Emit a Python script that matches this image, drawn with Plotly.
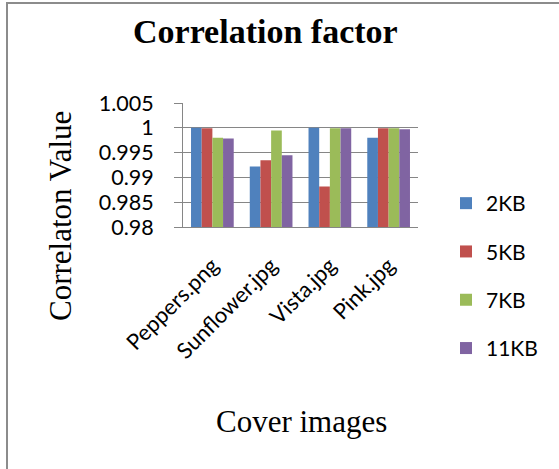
import plotly.graph_objects as go

# Correlation between cover and stego images for different payload sizes
images = ["Peppers.png", "Sunflower.jpg", "Vista.jpg", "Pink.jpg"]
series_names = ["2KB", "5KB", "7KB", "11KB"]
corr_2kb = [1.0, 0.9922, 1.0, 0.998]
corr_5kb = [0.9999, 0.99347, 0.98816, 0.9999]
corr_7kb = [0.998, 0.99946, 0.9999, 0.9999]
corr_11kb = [0.99785, 0.99448, 0.9999, 0.9997]
y_ticks = [0.98, 0.985, 0.99, 0.995, 1, 1.005]
y_tick_text = ["0.98", "0.985", "0.99", "0.995", "1", "1.005"]

colors = ["#4F81BD", "#C0504D", "#9BBB59", "#8064A2"]
values = [corr_2kb, corr_5kb, corr_7kb, corr_11kb]

W, H = 559, 469
L, R, T, B = 183, 141, 103, 242
pw, ph = W - L - R, H - T - B


def px_to_paper(px, py):
    """Convert a pixel position on the page to paper coordinates."""
    return (px - L) / pw, (H - B - py) / ph


fig = go.Figure()
for i, (name, vals) in enumerate(zip(series_names, values)):
    fig.add_trace(go.Bar(
        x=images, y=vals, name=name, legendgroup=name,
        marker=dict(color=colors[i], line=dict(width=0)),
    ))

serif = "Liberation Serif, Times New Roman, serif"
sans = "Lato, Calibri, sans-serif"

title_x, title_y = px_to_paper(265, 31)
ytitle_x, ytitle_y = px_to_paper(60, 216)
xtitle_x, xtitle_y = px_to_paper(301, 422)
leg_x, leg_y = px_to_paper(446, 183)

fig.update_layout(
    width=W, height=H,
    margin=dict(l=L, r=R, t=T, b=B, autoexpand=False),
    paper_bgcolor="white", plot_bgcolor="white",
    barmode="group", bargap=0.273, bargroupgap=0,
    showlegend=True,
    legend=dict(
        x=leg_x, xanchor="left", y=leg_y, yanchor="top",
        font=dict(family=sans, size=21, color="black"),
        tracegroupgap=18, itemwidth=30, maxheight=260,
    ),
    xaxis=dict(
        tickangle=-45, tickfont=dict(family=sans, size=22, color="black"),
        showline=True, linecolor="#868686", linewidth=1,
        showgrid=False, ticks="outside", ticklen=16,
        tickcolor="rgba(0,0,0,0)",
    ),
    yaxis=dict(
        range=[0.98, 1.005], tickvals=y_ticks, ticktext=y_tick_text,
        tickfont=dict(family=sans, size=21.5, color="black"),
        showline=True, linecolor="#868686", linewidth=1,
        showgrid=True, gridcolor="#868686", gridwidth=1,
        ticks="outside", ticklen=8, tickcolor="#868686",
        zeroline=False, ticklabelstandoff=16,
    ),
    annotations=[
        dict(text="<b>Correlation factor</b>", x=title_x, y=title_y,
             xref="paper", yref="paper", xanchor="center", yanchor="middle",
             showarrow=False, font=dict(family=serif, size=34, color="black")),
        dict(text="Correlaton Value", x=ytitle_x, y=ytitle_y, textangle=-90,
             xref="paper", yref="paper", xanchor="center", yanchor="middle",
             showarrow=False, font=dict(family=serif, size=31, color="black")),
        dict(text="Cover images", x=xtitle_x, y=xtitle_y,
             xref="paper", yref="paper", xanchor="center", yanchor="middle",
             showarrow=False, font=dict(family=serif, size=31, color="black")),
    ],
)

# Chart border: grey frame whose top and left edges sit inside the page
bx0, by0 = px_to_paper(7, 3)
bx1, by1 = px_to_paper(W + 5, H + 5)
fig.add_shape(type="rect", xref="paper", yref="paper",
              x0=bx0, x1=bx1, y0=by1, y1=by0,
              line=dict(color="#8C8C8C", width=2), layer="below")

fig.write_html("out.html")
